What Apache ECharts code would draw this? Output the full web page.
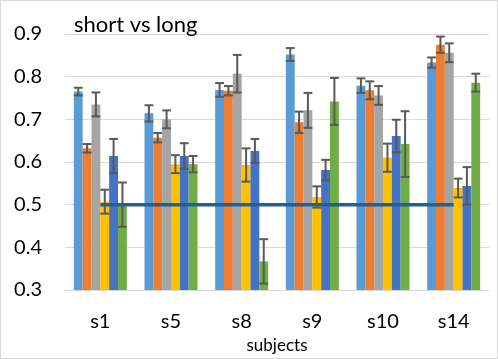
<!DOCTYPE html>
<html>
<head>
<meta charset="utf-8">
<script src="https://cdn.jsdelivr.net/npm/echarts@6/dist/echarts.min.js"></script>
<style>
	html, body { margin: 0; padding: 0; background: #fff; }
	#chart { width: 498px; height: 359px; box-sizing: border-box; border: 1px solid #d9d9d9; }
</style>
</head>
<body>
<div id="chart"></div>
<script>
// subjects on the x axis
var categories = ['s1', 's5', 's8', 's9', 's10', 's14'];

// mean values per series
var values1 = [0.765, 0.714, 0.769, 0.852, 0.779, 0.833];
var values2 = [0.632, 0.657, 0.767, 0.693, 0.768, 0.875];
var values3 = [0.735, 0.700, 0.807, 0.721, 0.756, 0.856];
var values4 = [0.507, 0.595, 0.593, 0.518, 0.610, 0.539];
var values5 = [0.614, 0.614, 0.626, 0.581, 0.661, 0.544];
var values6 = [0.500, 0.595, 0.367, 0.742, 0.642, 0.786];

// half-length of the error bars
var errors1 = [0.009, 0.019, 0.016, 0.015, 0.017, 0.012];
var errors2 = [0.010, 0.011, 0.011, 0.025, 0.021, 0.019];
var errors3 = [0.028, 0.021, 0.044, 0.041, 0.022, 0.022];
var errors4 = [0.028, 0.021, 0.039, 0.025, 0.033, 0.022];
var errors5 = [0.040, 0.030, 0.028, 0.024, 0.038, 0.044];
var errors6 = [0.052, 0.019, 0.052, 0.055, 0.077, 0.021];

// chance level line
var chance = [0.5, 0.5, 0.5, 0.5, 0.5, 0.5];

var colors = ['#5B9BD5', '#ED7D31', '#A5A5A5', '#FFC000', '#4472C4', '#70AD47'];
var allValues = [values1, values2, values3, values4, values5, values6];
var allErrors = [errors1, errors2, errors3, errors4, errors5, errors6];

var GAP = 0.25; // barCategoryGap
var FONT = 'Lato';

var chart = echarts.init(document.getElementById('chart'));

function errorRenderer(idx){
	return function(params, api){
		var cat = api.value(0);
		var hi = api.coord([cat, api.value(1)]);
		var lo = api.coord([cat, api.value(2)]);
		var catW = api.size([1, 0])[0];
		var groupW = catW * (1 - GAP);
		var barW = groupW / 6;
		var x = hi[0] - groupW / 2 + barW * (idx + 0.5);
		var cap = barW / 2;
		var style = { stroke: '#595959', lineWidth: 2 };
		return {
			type: 'group',
			children: [
				{ type: 'line', shape: { x1: x, y1: hi[1], x2: x, y2: lo[1] }, style: style },
				{ type: 'line', shape: { x1: x - cap, y1: hi[1], x2: x + cap, y2: hi[1] }, style: style },
				{ type: 'line', shape: { x1: x - cap, y1: lo[1], x2: x + cap, y2: lo[1] }, style: style }
			]
		};
	};
}

var series = [];
allValues.forEach(function(vals, i){
	series.push({
		name: 'series' + (i + 1),
		type: 'bar',
		data: vals,
		barGap: '0%',
		barCategoryGap: (GAP * 100) + '%',
		itemStyle: { color: colors[i] },
		z: 2
	});
});
allValues.forEach(function(vals, i){
	series.push({
		type: 'custom',
		renderItem: errorRenderer(i),
		data: vals.map(function(v, j){
			return [j, v + allErrors[i][j], v - allErrors[i][j]];
		}),
		z: 3,
		silent: true
	});
});
series.push({
	type: 'line',
	data: chance,
	symbol: 'none',
	lineStyle: { color: '#255E91', width: 3.5 },
	z: 4
});

var option = {
	animation: false,
	textStyle: { fontFamily: FONT },
	title: {
		text: 'short vs long',
		left: 68,
		top: 8,
		textStyle: { fontFamily: FONT, fontSize: 22, fontWeight: 'normal', color: '#000' }
	},
	grid: { left: 64, right: 8, top: 33, bottom: 68, containLabel: false, outerBoundsMode: 'none' },
	xAxis: {
		type: 'category',
		data: categories,
		name: 'subjects',
		nameLocation: 'middle',
		nameGap: 47,
		nameTextStyle: { fontFamily: FONT, fontSize: 17, color: '#000' },
		axisLine: { lineStyle: { color: '#d9d9d9', width: 1 } },
		axisTick: { show: false },
		axisLabel: { fontFamily: FONT, fontSize: 20, color: '#000', margin: 22 }
	},
	yAxis: {
		type: 'value',
		min: 0.3,
		max: 0.9,
		interval: 0.1,
		axisLine: { show: false },
		axisTick: { show: false },
		splitLine: { lineStyle: { color: '#d9d9d9', width: 1 } },
		axisLabel: {
			fontFamily: FONT, fontSize: 20, color: '#000', margin: 23,
			formatter: function(v){ return v.toFixed(1); }
		}
	},
	series: series
};

chart.setOption(option);
</script>
</body>
</html>
